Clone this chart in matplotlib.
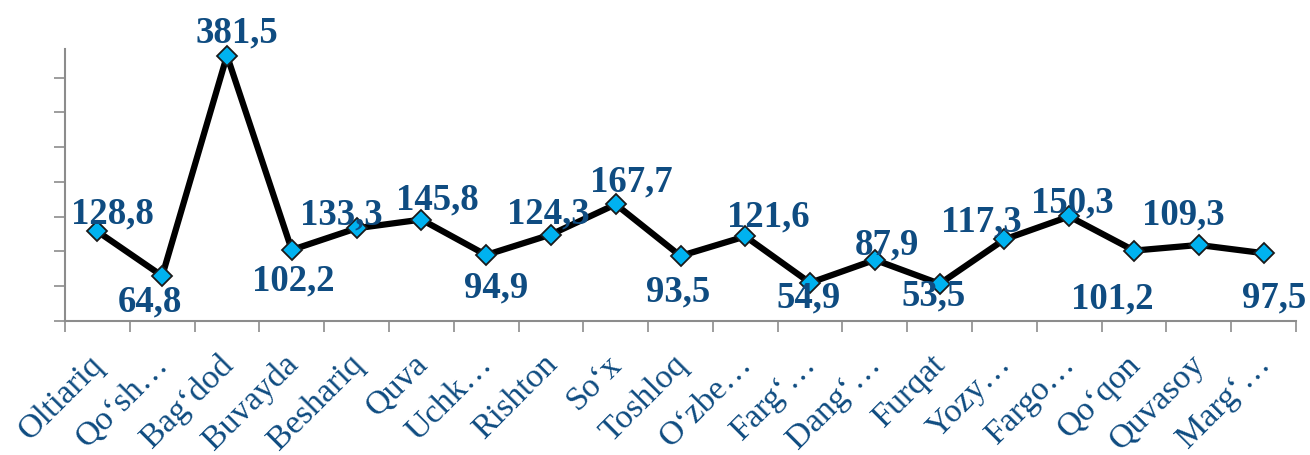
import matplotlib
matplotlib.use("Agg")
import matplotlib.pyplot as plt
import matplotlib.transforms as mtransforms
import numpy as np

categories = ["Oltiariq", "Qo‘sh…", "Bag‘dod", "Buvayda", "Beshariq", "Quva",
              "Uchk…", "Rishton", "So‘x", "Toshloq", "O‘zbe…", "Farg‘…",
              "Dang‘…", "Furqat", "Yozy…", "Fargo…", "Qo‘qon", "Quvasoy", "Marg‘…"]
values = [128.8, 64.8, 381.5, 102.2, 133.3, 145.8, 94.9, 124.3, 167.7, 93.5,
          121.6, 54.9, 87.9, 53.5, 117.3, 150.3, 101.2, 109.3, 97.5]
labels = ["128,8", "64,8", "381,5", "102,2", "133,3", "145,8", "94,9", "124,3",
          "167,7", "93,5", "121,6", "54,9", "87,9", "53,5", "117,3", "150,3",
          "101,2", "109,3", "97,5"]
# label offsets in pixels (dx right, dy down) relative to each point
label_dx = [15, -12, 10, 2, -15, 16, 10, -3, 16, -2, 23, -2, 12, -6, -23, 3, -22, -16, 11]
label_dy = [-22, 21, -28, 26, -18, -25, 28, -26, -27, 31, -24, 10, -20, 7, -22, -18, 43, -35, 40]

blue_text = "#0F4C81"
marker_fill = "#00B2F0"
gray = "#8C8C8C"

plt.rcParams['font.family'] = ['Liberation Serif', 'DejaVu Serif']

fig = plt.figure(figsize=(13.1, 4.56), dpi=100)
ax = fig.add_axes([65/1310, (456-322)/456, (1296-65)/1310, (322-50)/456])

x = np.arange(len(categories))
ax.plot(x, values, color="black", lw=4.5, marker="D", markersize=10.5,
        markerfacecolor=marker_fill, markeredgecolor="#1a1a1a", markeredgewidth=1.3,
        zorder=3, clip_on=False)

for xi, v, lab, dx, dy in zip(x, values, labels, label_dx, label_dy):
    ax.annotate(lab, (xi, v), xytext=(dx, -dy - 4), textcoords="offset pixels",
                ha="center", va="center", fontsize=26.5, fontweight="bold",
                color=blue_text, zorder=4, annotation_clip=False)

ax.set_xlim(-0.5, len(categories) - 0.5)
ax.set_ylim(0, 391)

ax.set_yticks(np.arange(0, 351, 50))
ax.set_yticklabels([])
ax.tick_params(axis="y", direction="out", length=8, width=1.2, color=gray)

ax.set_xticks(x)
ax.set_xticklabels(categories, rotation=45, ha="right", va="top", rotation_mode="anchor",
                   fontsize=24.5, color=blue_text)
ax.tick_params(axis="x", which="major", length=0, pad=19.5)
ax.set_xticks(np.arange(-0.5, len(categories)), minor=True)
ax.tick_params(axis="x", which="minor", direction="out", length=8, width=1.2, color=gray)
shift = mtransforms.ScaledTranslation(-9/100, 0, fig.dpi_scale_trans)
for t in ax.get_xticklabels():
    t.set_transform(t.get_transform() + shift)

for s in ["top", "right"]:
    ax.spines[s].set_visible(False)
for s in ["left", "bottom"]:
    ax.spines[s].set_color(gray)
    ax.spines[s].set_linewidth(1.5)

fig.savefig("out.png", dpi=100)
